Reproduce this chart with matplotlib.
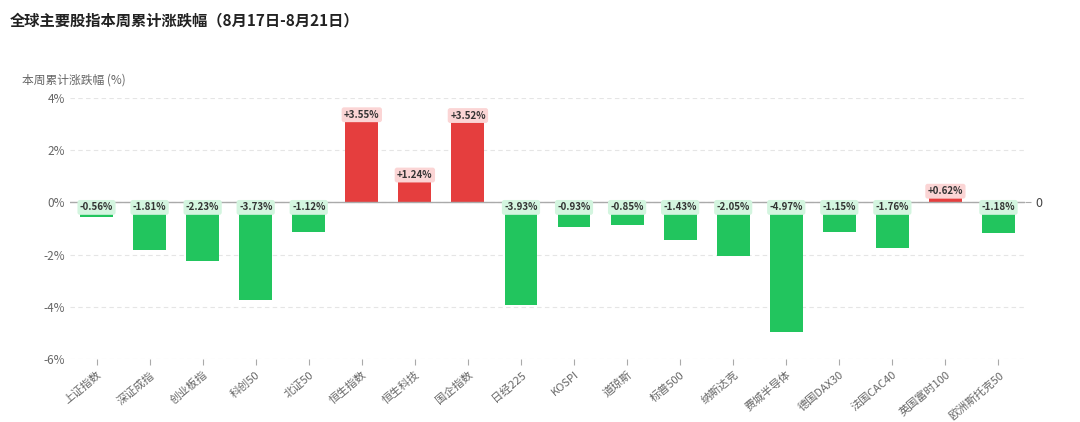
import matplotlib
matplotlib.use("Agg")
import matplotlib.pyplot as plt

plt.rcParams['font.family'] = ['Noto Sans CJK SC', 'DejaVu Sans']

categories = ["上证指数","深证成指","创业板指","科创50","北证50","恒生指数","恒生科技","国企指数",
              "日经225","KOSPI","道琼斯","标普500","纳斯达克","费城半导体","德国DAX30","法国CAC40",
              "英国富时100","欧洲斯托克50"]
values = [-0.56,-1.81,-2.23,-3.73,-1.12,3.55,1.24,3.52,-3.93,-0.93,-0.85,-1.43,-2.05,-4.97,-1.15,-1.76,0.62,-1.18]

W, H = 1080, 422
fig = plt.figure(figsize=(W/100, H/100), dpi=100)
ax = fig.add_axes([70/W, 1-359/H, (1025-70)/W, (359-98)/H])

x = list(range(len(values)))
colors = ['#e53e3e' if v > 0 else '#22c55e' for v in values]
ax.bar(x, values, width=0.62, color=colors, zorder=2)
for xi, v in zip(x, values):
    if v > 0:
        ax.text(xi, v, f"+{v:.2f}%", ha='center', va='top', fontsize=7, fontweight='bold',
                color='#333333', zorder=3,
                bbox=dict(boxstyle='round,pad=0.25', fc='#fbd5d5', ec='none'))
    else:
        ax.text(xi, 0, f"{v:.2f}%", ha='center', va='top', fontsize=7, fontweight='bold',
                color='#333333', zorder=3,
                bbox=dict(boxstyle='round,pad=0.25', fc='#d3f5df', ec='none'))

ax.set_ylim(-6, 4)
ax.set_xlim(-0.5, len(values)-0.5)
ax.set_yticks([-6,-4,-2,0,2,4])
ax.set_yticklabels([f"{t}%" for t in [-6,-4,-2,0,2,4]], fontsize=8.5, color='#666666')
ax.grid(axis='y', color='#e5e5e5', linestyle=(0,(4,3)), linewidth=0.8, zorder=0)
ax.axhline(0, color='#aaaaaa', linewidth=1, zorder=2.5)
for s in ax.spines.values():
    s.set_visible(False)
ax.tick_params(axis='y', length=0)
ax.tick_params(axis='x', length=4, color='#aaaaaa')
ax.set_xticks(x)
ax.set_xticklabels(categories, rotation=40, ha='right', rotation_mode='anchor', fontsize=8, color='#666666')

ax2 = ax.twinx()
ax2.set_ylim(-6, 4)
ax2.set_yticks([0])
ax2.set_yticklabels(['0'], fontsize=9, color='#444444')
ax2.tick_params(axis='y', length=4, color='#aaaaaa')
for s in ax2.spines.values():
    s.set_visible(False)

fig.text(10/W, 1-20/H, "全球主要股指本周累计涨跌幅（8月17日-8月21日）", fontsize=11, fontweight='bold',
         color='#222222', va='center')
fig.text(22/W, 1-80/H, "本周累计涨跌幅 (%)", fontsize=8.5, color='#666666', va='center')

fig.savefig("out.png", dpi=100, facecolor='white')
